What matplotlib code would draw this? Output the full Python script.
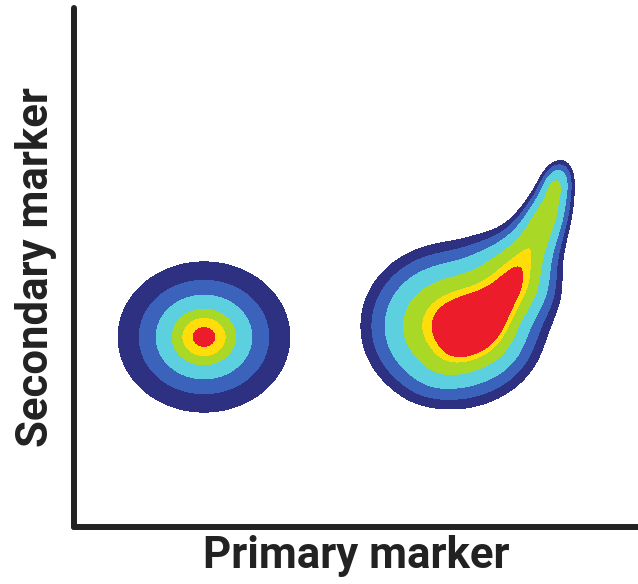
import numpy as np
import matplotlib.pyplot as plt

plt.rcParams['font.family'] = ['Roboto', 'DejaVu Sans']

band_colors = ['#2e3182', '#3c63bb', '#5dd0df', '#aad826', '#fedd0b', '#ed1c2a']

# left population: one elliptical gaussian
left_center = (130, 190)
left_sigma = (40, 35)
left_levels = [0.1, 0.27, 0.49, 0.73, 0.87, 0.965, 10]

# right population: bulb + ridge towards the upper right
comp_x = [378, 410, 414, 440, 458, 474, 482, 418]
comp_y = [201, 222, 206, 250, 283, 316, 344, 190]
comp_sl = [44, 28, 40, 22, 24, 20, 14, 22]
comp_sp = [40, 24, 14, 26, 16, 12, 9, 22]
comp_ang = [0, 42, 45, 52, 60, 66, 72, 0]
comp_amp = [1.0, 0.24, 0.3, 0.5, 0.55, 0.5, 0.4, 0.15]

edge_left_x = [281, 294, 308, 331, 351, 359]      # along y = 190
edge_right_x = [474, 464, 456, 443, 426, 421]     # along y = 190
edge_bottom_y = [122, 135, 147, 157, 168, 174]    # along x = 406
edge_top_y = [292, 285, 275, 259, 235, 225]       # along x = 406
edge_tip_x = [488, 484, 481, 476, 469, 443]
edge_tip_y = [364, 355, 349, 335, 315, 260]


def right_density(px, py):
    z = np.zeros_like(np.asarray(px, dtype=float))
    for cx, cy, sl, sp, ang, amp in zip(comp_x, comp_y, comp_sl, comp_sp, comp_ang, comp_amp):
        t = np.deg2rad(ang)
        u = (px - cx) * np.cos(t) + (py - cy) * np.sin(t)
        v = -(px - cx) * np.sin(t) + (py - cy) * np.cos(t)
        z = z + amp * np.exp(-0.5 * ((u / sl) ** 2 + (v / sp) ** 2))
    return z


x = np.linspace(0, 564, 800)
y = np.linspace(0, 519, 740)
X, Y = np.meshgrid(x, y)
Z_left = np.exp(-0.5 * (((X - left_center[0]) / left_sigma[0]) ** 2 +
                        ((Y - left_center[1]) / left_sigma[1]) ** 2))
Z_right = right_density(X, Y)

samples = np.array([
    right_density(np.array(edge_left_x, float), np.full(6, 190.0)),
    right_density(np.array(edge_right_x, float), np.full(6, 190.0)),
    right_density(np.full(6, 406.0), np.array(edge_bottom_y, float)),
    right_density(np.full(6, 406.0), np.array(edge_top_y, float)),
    right_density(np.array(edge_tip_x, float), np.array(edge_tip_y, float)),
])
right_levels = list(np.median(samples, axis=0)) + [10]
right_levels = list(np.maximum.accumulate(right_levels))

fig = plt.figure(figsize=(6.38, 5.84), dpi=100)
ax = fig.add_axes([74 / 638, 1 - 527 / 584, 564 / 638, 519 / 584])
ax.contourf(X, Y, Z_left, levels=left_levels, colors=band_colors)
ax.contourf(X, Y, Z_right, levels=right_levels, colors=band_colors)
ax.set_xlim(0, 564)
ax.set_ylim(0, 519)
ax.set_xticks([])
ax.set_yticks([])
for s in ['top', 'right']:
    ax.spines[s].set_visible(False)
for s in ['left', 'bottom']:
    ax.spines[s].set_linewidth(4.3)
    ax.spines[s].set_color('#222222')
    ax.spines[s].set_capstyle('round')
ax.set_xlabel('Primary marker', fontsize=31.5, fontweight='bold', color='#222222', labelpad=6)
ax.set_ylabel('Secondary marker', fontsize=31.5, fontweight='bold', color='#222222', labelpad=12)

fig.savefig('out.png', dpi=100)
